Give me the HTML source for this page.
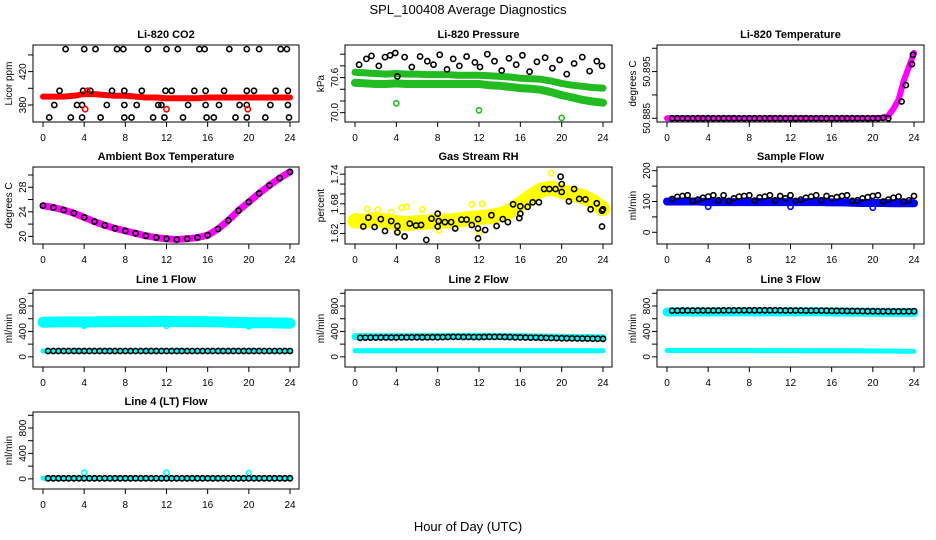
<!DOCTYPE html>
<html><head><meta charset="utf-8">
<style>
html,body{margin:0;padding:0;background:#fff;}
svg{display:block;font-family:"Liberation Sans",Arial,sans-serif;}
</style></head>
<body>
<svg id="chart" width="936" height="540" viewBox="0 0 936 540">
<rect x="0" y="0" width="936" height="540" fill="#fff"/>
<text x="468" y="14" text-anchor="middle" font-size="13">SPL_100408  Average Diagnostics</text>
<text x="468" y="531" text-anchor="middle" font-size="13">Hour of Day (UTC)</text>
</svg>
<script>
// ---- data arrays ----
const hours = [0,1,2,3,4,5,6,7,8,9,10,11,12,13,14,15,16,17,18,19,20,21,22,23,24];
const halfHours = [0.5,1,1.5,2,2.5,3,3.5,4,4.5,5,5.5,6,6.5,7,7.5,8,8.5,9,9.5,10,10.5,11,11.5,12,12.5,13,13.5,14,14.5,15,15.5,16,16.5,17,17.5,18,18.5,19,19.5,20,20.5,21,21.5,22,22.5,23,23.5,24];
const xTickValues = [0,4,8,12,16,20,24];

// CO2
const co2Red = [390,390,390,391,393,393,392,391,391,390,389,389,388,388,388,388,389,389,389,389,389,389,389,389,389];
const co2BlkX = [2.2,4.0,5.1,7.2,7.8,10.2,12.0,13.1,15.2,15.7,18.1,19.8,21.0,23.1,23.7,1.6,3.9,4.6,6.7,7.9,9.6,11.9,12.5,14.7,15.8,17.6,19.8,20.5,22.6,23.8,1.1,3.3,3.8,6.2,7.9,9.1,11.2,11.5,14.1,15.8,17.1,19.1,19.8,22.1,23.8,0.6,2.7,3.8,5.6,7.9,8.6,10.7,11.8,13.6,15.9,16.6,18.7,19.8,21.6,23.9];
const co2BlkY = [447,447,447,447,447,447,447,447,447,447,447,447,447,447,447,397,397,397,397,397,397,397,397,397,397,397,397,397,397,397,380,380,380,380,380,380,380,380,380,380,380,380,380,380,380,365,365,365,365,365,365,365,365,365,365,365,365,365,365,365];
const co2OutX = [4.1,4.3,12.0,19.9];
const co2OutY = [375,397,375,375];

// Pressure
const presUpper = [70.69,70.68,70.67,70.66,70.67,70.66,70.66,70.65,70.65,70.65,70.64,70.64,70.64,70.63,70.62,70.61,70.59,70.58,70.57,70.54,70.50,70.47,70.45,70.43,70.42];
const presLower = [70.51,70.50,70.49,70.49,70.50,70.49,70.49,70.49,70.49,70.49,70.49,70.49,70.49,70.47,70.46,70.44,70.42,70.41,70.39,70.35,70.30,70.26,70.22,70.19,70.17];
const presOutX = [4,12,20];
const presOutY = [70.16,70.04,69.91];
const presBlkX = [0.4,1.1,1.6,2.3,2.9,3.4,3.9,4.1,4.8,5.5,6.3,7.0,7.6,8.2,8.9,9.5,10.1,10.8,11.6,12.1,12.8,13.5,14.2,14.9,15.6,16.2,16.9,17.6,18.4,19.1,19.8,20.5,21.2,22.0,22.7,23.4,23.9];
const presBlkY = [70.82,70.92,70.97,70.80,70.95,70.98,71.02,70.62,70.95,70.78,70.96,70.88,70.82,70.99,70.74,70.92,70.80,70.96,70.86,70.78,71.00,70.88,70.72,70.93,70.82,70.98,70.70,70.87,70.94,70.76,70.90,70.66,70.84,70.95,70.71,70.88,70.80];

// Li-820 temperature
const tempMagX = [0,1,2,3,4,5,6,7,8,9,10,11,12,13,14,15,16,17,18,19,20,21,21.5,22,22.5,23,23.5,24];
const tempMagY = [50.885,50.885,50.885,50.885,50.885,50.885,50.885,50.885,50.885,50.885,50.885,50.885,50.885,50.885,50.885,50.885,50.885,50.885,50.885,50.885,50.885,50.8851,50.8855,50.887,50.889,50.893,50.896,50.899];
const tempBlkX = [0.5,1,1.5,2,2.5,3,3.5,4,4.5,5,5.5,6,6.5,7,7.5,8,8.5,9,9.5,10,10.5,11,11.5,12,12.5,13,13.5,14,14.5,15,15.5,16,16.5,17,17.5,18,18.5,19,19.5,20,20.5,21,21.5,22.8,23.2,23.8,23.9];
const tempBlkY = [50.885,50.885,50.885,50.885,50.885,50.885,50.885,50.885,50.885,50.885,50.885,50.885,50.885,50.885,50.885,50.885,50.885,50.885,50.885,50.885,50.885,50.885,50.885,50.885,50.885,50.885,50.885,50.885,50.885,50.885,50.885,50.885,50.885,50.885,50.885,50.885,50.885,50.885,50.885,50.885,50.885,50.8851,50.885,50.8886,50.8921,50.8966,50.8986];

// Ambient box temperature
const ambient = [25.0,24.7,24.3,23.8,23.1,22.4,21.8,21.3,20.9,20.5,20.1,19.8,19.6,19.5,19.6,19.8,20.2,21.2,22.6,24.2,25.6,27.0,28.3,29.5,30.5];

// Gas stream RH
const rhYellow = [1.645,1.645,1.648,1.645,1.642,1.640,1.642,1.643,1.645,1.645,1.647,1.650,1.652,1.654,1.658,1.665,1.680,1.695,1.708,1.712,1.705,1.700,1.695,1.685,1.670];
const rhYelOutX = [1.2,2.2,4.5,5.0,6.5,11.3,12.3,19.0,4.0,8.1,12.0,0.1,3.5];
const rhYelOutY = [1.670,1.668,1.672,1.674,1.669,1.679,1.680,1.742,1.625,1.626,1.622,1.655,1.663];
const rhBlkX = [0.8,1.3,1.9,2.5,2.9,3.5,4.1,4.1,4.8,5.3,5.9,6.4,6.9,7.4,8.0,8.0,8.1,8.7,9.3,9.7,10.3,10.8,11.3,11.9,11.9,11.9,12.6,13.2,13.7,14.3,14.8,15.3,15.9,16.0,16.0,16.7,17.2,17.8,18.3,18.8,19.4,19.9,20.0,20.0,20.7,21.2,21.7,22.3,22.8,23.4,23.9,24.0,23.9];
const rhBlkY = [1.634,1.652,1.633,1.649,1.625,1.645,1.635,1.622,1.614,1.640,1.636,1.637,1.607,1.650,1.660,1.634,1.645,1.643,1.643,1.630,1.648,1.648,1.637,1.630,1.649,1.610,1.627,1.657,1.635,1.649,1.643,1.679,1.651,1.675,1.660,1.674,1.683,1.683,1.710,1.710,1.710,1.735,1.720,1.704,1.685,1.710,1.690,1.689,1.669,1.681,1.666,1.669,1.634];

// Sample flow
const sampleBlue = [100,100,100,100,98,98,98,98,98,98,98,98,98,98,98,98,97,97,96,95,95,95,94,94,94];
const sampleOutX = [4,12,20];
const sampleOutY = [83,83,80];
const sampleBlk = [108,115,118,120,102,106,112,116,120,104,120,102,110,116,118,120,103,113,116,120,104,118,110,120,102,106,112,116,120,104,118,110,114,118,120,102,104,110,114,118,120,100,106,112,116,100,104,118];

// Line flows
const line1Upper = [545,548,550,550,548,550,552,555,555,555,555,558,558,555,555,555,552,550,545,540,538,535,535,532,530];
const line1Lower = [92,92,92,92,92,92,92,92,92,92,92,92,92,92,92,92,92,92,92,92,92,92,92,92,92];
const line1OutX = [4,12,20];
const line1OutY = [490,490,480];
const line1Blk = [92,92,92,92,92,92,92,92,92,92,92,92,92,92,92,92,92,92,92,92,92,92,92,92,92,92,92,92,92,92,92,92,92,92,92,92,92,92,92,92,92,92,92,92,92,92,92,92];
const line2Upper = [318,318,318,318,318,318,320,320,320,322,322,322,322,322,320,320,318,315,312,310,308,305,303,300,298];
const line2Lower = [95,95,95,95,95,95,95,95,95,95,95,95,95,95,95,95,95,95,95,95,95,95,95,95,95];
const line2Blk = [300,302,303,303,304,304,305,305,306,306,307,307,308,308,309,309,310,312,313,313,312,312,311,310,312,313,314,313,312,310,308,306,305,303,302,300,298,296,295,294,292,290,289,288,287,286,285,284];
const line3Upper = [705,705,706,706,706,707,707,708,708,708,708,708,708,708,707,707,706,705,704,703,702,700,700,699,698];
const line3Lower = [100,100,100,100,100,99,99,99,99,98,98,98,98,97,97,97,96,96,95,94,93,92,90,88,86];
const line3Blk = [728,728,729,729,729,730,730,730,730,730,731,731,731,731,732,732,733,733,733,732,732,731,730,730,729,729,728,728,727,727,726,725,724,723,722,722,721,720,719,718,717,716,716,715,715,715,716,718];
const line4Cyan = [10,10,10,10,10,10,10,10,10,10,10,10,10,10,10,10,10,10,10,10,10,10,10,10,10];
const line4OutX = [4,12,20];
const line4OutY = [95,95,90];
const line4Blk = [8,8,8,8,8,8,8,8,8,8,8,8,8,8,8,8,8,8,8,8,8,8,8,8,8,8,8,8,8,8,8,8,8,8,8,8,8,8,8,8,8,8,8,8,8,8,8,8];

// axis tick arrays
const co2Ticks = [380,400,420,440];        const co2Labels = [380,420];
const presTicks = [70.0,70.2,70.4,70.6,70.8,71.0]; const presLabels = [70.0,70.6];
const tempTicks = [50.885,50.890,50.895,50.900]; const tempLabels = [50.885,50.895];
const ambTicks = [20,22,24,26,28,30];      const ambLabels = [20,24,28];
const rhTicks = [1.62,1.64,1.66,1.68,1.70,1.72,1.74]; const rhLabels = [1.62,1.68,1.74];
const sfTicks = [0,50,100,150,200];        const sfLabels = [0,100,200];
const flowTicks = [0,200,400,600,800,1000]; const flowLabels = [0,400,800];

// ---- layout ----
const NS = 'http://www.w3.org/2000/svg';
const svg = document.getElementById('chart');
const COLS = [{L:33,R:299,x0:43,x24:290},{L:345,R:612,x0:355,x24:603},{L:657,R:924,x0:667,x24:914}];
const ROWS = [45,167,290,412];
const H = 77;

function mk(tag, attrs, parent){
  const e = document.createElementNS(NS, tag);
  for (const k in attrs) e.setAttribute(k, attrs[k]);
  parent.appendChild(e);
  return e;
}
function fmt(v){ return String(v); }

function panel(cfg){
  const col = COLS[cfg.c], top = ROWS[cfg.r], bot = top + H;
  const g = mk('g', {}, svg);
  
  
  const sx = h => col.x0 + h * (col.x24 - col.x0) / 24;
  const sy = v => bot - (v - cfg.ymin) / (cfg.ymax - cfg.ymin) * H;

  // series
  cfg.series.forEach(s => {
    if (s.type === 'band') {
      const pts = s.x.map((h, i) => sx(h).toFixed(1) + ',' + sy(s.y[i]).toFixed(1)).join(' ');
      const pl = mk('polyline', {points: pts, fill: 'none', stroke: s.color, 'stroke-width': s.w, 'stroke-linejoin': 'round', 'stroke-linecap': 'round'}, g);
      
      
    } else {
      const sg = mk('g', {}, g);
      
      
      s.x.forEach((h, i) => {
        const c = mk('circle', {cx: sx(h).toFixed(1), cy: sy(s.y[i]).toFixed(1), r: 2.6, fill: 'none', stroke: s.color, 'stroke-width': 1.6}, sg);
        
        
      });
    }
  });

  // box
  const box = mk('rect', {x: col.L, y: top, width: col.R - col.L, height: H, fill: 'none', stroke: '#000', 'stroke-width': 1}, g);
  
  

  // title
  const t = mk('text', {x: (col.L + col.R) / 2, y: top - 7, 'text-anchor': 'middle', 'font-size': 11, 'font-weight': 'bold'}, g);
  t.textContent = cfg.title;
  
  

  // x axis
  xTickValues.forEach(h => {
    const tk = mk('line', {x1: sx(h), x2: sx(h), y1: bot, y2: bot + 5, stroke: '#000', 'stroke-width': 1}, g);
    
    
    const lb = mk('text', {x: sx(h), y: bot + 19, 'text-anchor': 'middle', 'font-size': 10}, g);
    lb.textContent = fmt(h);
    
    
  });

  // y axis
  cfg.ticks.forEach(v => {
    const tk = mk('line', {x1: col.L - 5, x2: col.L, y1: sy(v), y2: sy(v), stroke: '#000', 'stroke-width': 1}, g);
    
    
  });
  cfg.labels.forEach(v => {
    const y = sy(v), x = col.L - 7;
    const lb = mk('text', {x: x, y: y, 'text-anchor': 'middle', 'font-size': 10, transform: 'rotate(-90 ' + x + ' ' + y + ')'}, g);
    lb.textContent = cfg.lfmt ? cfg.lfmt(v) : fmt(v);
    
    
  });
  const yx = col.L - 21, yy = top + H / 2;
  const yt = mk('text', {x: yx, y: yy, 'text-anchor': 'middle', 'font-size': 10, transform: 'rotate(-90 ' + yx + ' ' + yy + ')'}, g);
  yt.textContent = cfg.ylab;
  
  
}

panel({name:'co2', c:0, r:0, title:'Li-820 CO2', ylab:'Licor ppm', ymin:359.6, ymax:451.9, ticks:co2Ticks, labels:co2Labels,
  series:[{type:'band', name:'red-series', x:hours, y:co2Red, color:'#ff0000', w:6},
          {type:'pts', name:'black-points', x:co2BlkX, y:co2BlkY, color:'#000'},
          {type:'pts', name:'red-outliers', x:co2OutX, y:co2OutY, color:'#ff0000'}]});
panel({name:'pressure', c:1, r:0, title:'Li-820 Pressure', ylab:'kPa', ymin:69.84, ymax:71.157, ticks:presTicks, labels:presLabels, lfmt:v=>v.toFixed(1),
  series:[{type:'band', name:'green-upper', x:hours, y:presUpper, color:'#22bb22', w:7},
          {type:'band', name:'green-lower', x:hours, y:presLower, color:'#22bb22', w:8},
          {type:'pts', name:'green-outliers', x:presOutX, y:presOutY, color:'#22bb22'},
          {type:'pts', name:'black-points', x:presBlkX, y:presBlkY, color:'#000'}]});
panel({name:'li820-temperature', c:2, r:0, title:'Li-820 Temperature', ylab:'degrees C', ymin:50.8842, ymax:50.9007, ticks:tempTicks, labels:tempLabels, lfmt:v=>v.toFixed(3),
  series:[{type:'band', name:'magenta-series', x:tempMagX, y:tempMagY, color:'#ff00ff', w:6},
          {type:'pts', name:'black-points', x:tempBlkX, y:tempBlkY, color:'#000'}]});
panel({name:'ambient-temperature', c:0, r:1, title:'Ambient Box Temperature', ylab:'degrees C', ymin:18.76, ymax:31.3, ticks:ambTicks, labels:ambLabels,
  series:[{type:'band', name:'magenta-series', x:hours, y:ambient, color:'#ff00ff', w:7},
          {type:'pts', name:'black-points', x:hours, y:ambient, color:'#000'}]});
panel({name:'gas-rh', c:1, r:1, title:'Gas Stream RH', ylab:'percent', ymin:1.5986, ymax:1.7546, ticks:rhTicks, labels:rhLabels, lfmt:v=>v.toFixed(2),
  series:[{type:'band', name:'yellow-series', x:hours, y:rhYellow, color:'#ffff00', w:15},
          {type:'pts', name:'yellow-outliers', x:rhYelOutX, y:rhYelOutY, color:'#ffff00'},
          {type:'pts', name:'black-points', x:rhBlkX, y:rhBlkY, color:'#000'}]});
panel({name:'sample-flow', c:2, r:1, title:'Sample Flow', ylab:'ml/min', ymin:-38, ymax:212, ticks:sfTicks, labels:sfLabels,
  series:[{type:'band', name:'blue-series', x:hours, y:sampleBlue, color:'#0000ff', w:8},
          {type:'pts', name:'blue-outliers', x:sampleOutX, y:sampleOutY, color:'#0000ff'},
          {type:'pts', name:'black-points', x:halfHours, y:sampleBlk, color:'#000'}]});
panel({name:'line1-flow', c:0, r:2, title:'Line 1 Flow', ylab:'ml/min', ymin:-160, ymax:1052, ticks:flowTicks, labels:flowLabels,
  series:[{type:'band', name:'cyan-upper', x:hours, y:line1Upper, color:'#00ffff', w:11},
          {type:'band', name:'cyan-lower', x:hours, y:line1Lower, color:'#00ffff', w:5},
          {type:'pts', name:'cyan-outliers', x:line1OutX, y:line1OutY, color:'#00ffff'},
          {type:'pts', name:'black-points', x:halfHours, y:line1Blk, color:'#000'}]});
panel({name:'line2-flow', c:1, r:2, title:'Line 2 Flow', ylab:'ml/min', ymin:-160, ymax:1052, ticks:flowTicks, labels:flowLabels,
  series:[{type:'band', name:'cyan-upper', x:hours, y:line2Upper, color:'#00ffff', w:7},
          {type:'band', name:'cyan-lower', x:hours, y:line2Lower, color:'#00ffff', w:5},
          {type:'pts', name:'black-points', x:halfHours, y:line2Blk, color:'#000'}]});
panel({name:'line3-flow', c:2, r:2, title:'Line 3 Flow', ylab:'ml/min', ymin:-160, ymax:1052, ticks:flowTicks, labels:flowLabels,
  series:[{type:'band', name:'cyan-upper', x:hours, y:line3Upper, color:'#00ffff', w:9},
          {type:'band', name:'cyan-lower', x:hours, y:line3Lower, color:'#00ffff', w:5},
          {type:'pts', name:'black-points', x:halfHours, y:line3Blk, color:'#000'}]});
panel({name:'line4-flow', c:0, r:3, title:'Line 4 (LT) Flow', ylab:'ml/min', ymin:-160, ymax:1052, ticks:flowTicks, labels:flowLabels,
  series:[{type:'band', name:'cyan-series', x:hours, y:line4Cyan, color:'#00ffff', w:5},
          {type:'pts', name:'cyan-outliers', x:line4OutX, y:line4OutY, color:'#00ffff'},
          {type:'pts', name:'black-points', x:halfHours, y:line4Blk, color:'#000'}]});
</script>
</body></html>
